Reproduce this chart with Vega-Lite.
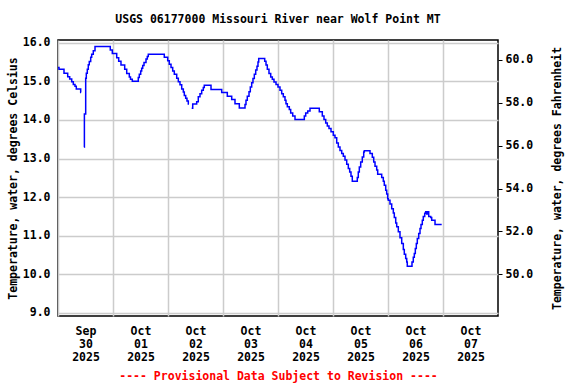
{
  "$schema": "https://vega.github.io/schema/vega-lite/v6.json",
  "width": 440,
  "height": 276,
  "autosize": {"type": "none"},
  "padding": {"left": 58, "top": 40, "right": 78, "bottom": 68},
  "background": "#ffffff",
  "config": {
    "font": "DejaVu Sans Mono",
    "view": {"stroke": "#000000", "strokeWidth": 1.5},
    "axis": {
      "labelFont": "DejaVu Sans Mono",
      "labelFontSize": 11.5,
      "labelFontWeight": "bold",
      "labelColor": "#000000",
      "titleFont": "DejaVu Sans Mono",
      "titleFontSize": 11.5,
      "titleFontWeight": "bold",
      "titleColor": "#000000",
      "domain": false,
      "gridColor": "#cccccc",
      "gridWidth": 1.5,
      "gridOpacity": 1
    }
  },
  "title": {
    "text": "USGS 06177000 Missouri River near Wolf Point MT",
    "font": "DejaVu Sans Mono",
    "fontSize": 11.5,
    "fontWeight": "bold",
    "color": "#000000",
    "anchor": "middle",
    "offset": 11
  },
  "data": {
    "values": [
      {"t": "2025-09-30T00:00", "c": 15.36},
      {"t": "2025-09-30T00:26", "c": 15.31},
      {"t": "2025-09-30T02:37", "c": 15.21},
      {"t": "2025-09-30T04:14", "c": 15.12},
      {"t": "2025-09-30T05:06", "c": 15.06},
      {"t": "2025-09-30T05:59", "c": 14.99},
      {"t": "2025-09-30T06:41", "c": 14.92},
      {"t": "2025-09-30T07:25", "c": 14.87},
      {"t": "2025-09-30T07:59", "c": 14.80},
      {"t": "2025-09-30T09:54", "c": 14.71},
      {"t": "2025-09-30T10:02", "c": 14.71},
      {"t": "2025-09-30T10:30", "c": null},
      {"t": "2025-09-30T11:29", "c": 13.29},
      {"t": "2025-09-30T11:31", "c": 14.15},
      {"t": "2025-09-30T12:05", "c": 15.08},
      {"t": "2025-09-30T12:21", "c": 15.21},
      {"t": "2025-09-30T12:47", "c": 15.31},
      {"t": "2025-09-30T13:13", "c": 15.43},
      {"t": "2025-09-30T13:39", "c": 15.51},
      {"t": "2025-09-30T14:16", "c": 15.62},
      {"t": "2025-09-30T14:42", "c": 15.70},
      {"t": "2025-09-30T15:24", "c": 15.79},
      {"t": "2025-09-30T16:09", "c": 15.90},
      {"t": "2025-09-30T22:49", "c": 15.81},
      {"t": "2025-09-30T23:42", "c": 15.72},
      {"t": "2025-10-01T01:37", "c": 15.61},
      {"t": "2025-10-01T02:29", "c": 15.52},
      {"t": "2025-10-01T03:29", "c": 15.42},
      {"t": "2025-10-01T05:06", "c": 15.31},
      {"t": "2025-10-01T05:59", "c": 15.20},
      {"t": "2025-10-01T07:07", "c": 15.11},
      {"t": "2025-10-01T07:38", "c": 15.05},
      {"t": "2025-10-01T08:25", "c": 15.00},
      {"t": "2025-10-01T11:02", "c": 15.10},
      {"t": "2025-10-01T11:29", "c": 15.18},
      {"t": "2025-10-01T12:05", "c": 15.27},
      {"t": "2025-10-01T12:31", "c": 15.34},
      {"t": "2025-10-01T12:58", "c": 15.41},
      {"t": "2025-10-01T13:32", "c": 15.49},
      {"t": "2025-10-01T14:24", "c": 15.58},
      {"t": "2025-10-01T14:58", "c": 15.64},
      {"t": "2025-10-01T15:24", "c": 15.70},
      {"t": "2025-10-01T22:23", "c": 15.62},
      {"t": "2025-10-01T23:52", "c": 15.53},
      {"t": "2025-10-02T00:34", "c": 15.44},
      {"t": "2025-10-02T01:19", "c": 15.36},
      {"t": "2025-10-02T02:03", "c": 15.27},
      {"t": "2025-10-02T02:45", "c": 15.18},
      {"t": "2025-10-02T03:48", "c": 15.08},
      {"t": "2025-10-02T04:30", "c": 14.99},
      {"t": "2025-10-02T05:14", "c": 14.91},
      {"t": "2025-10-02T05:59", "c": 14.80},
      {"t": "2025-10-02T06:41", "c": 14.72},
      {"t": "2025-10-02T07:07", "c": 14.63},
      {"t": "2025-10-02T07:43", "c": 14.56},
      {"t": "2025-10-02T08:17", "c": 14.49},
      {"t": "2025-10-02T08:52", "c": 14.41},
      {"t": "2025-10-02T09:10", "c": 14.41},
      {"t": "2025-10-02T09:40", "c": null},
      {"t": "2025-10-02T10:20", "c": 14.30},
      {"t": "2025-10-02T10:47", "c": 14.41},
      {"t": "2025-10-02T12:31", "c": 14.47},
      {"t": "2025-10-02T13:13", "c": 14.60},
      {"t": "2025-10-02T13:58", "c": 14.68},
      {"t": "2025-10-02T14:42", "c": 14.77},
      {"t": "2025-10-02T15:24", "c": 14.84},
      {"t": "2025-10-02T15:50", "c": 14.90},
      {"t": "2025-10-02T18:46", "c": 14.79},
      {"t": "2025-10-02T23:26", "c": 14.71},
      {"t": "2025-10-03T01:53", "c": 14.61},
      {"t": "2025-10-03T03:48", "c": 14.53},
      {"t": "2025-10-03T05:14", "c": 14.42},
      {"t": "2025-10-03T07:07", "c": 14.31},
      {"t": "2025-10-03T09:36", "c": 14.40},
      {"t": "2025-10-03T10:02", "c": 14.51},
      {"t": "2025-10-03T10:36", "c": 14.61},
      {"t": "2025-10-03T11:21", "c": 14.73},
      {"t": "2025-10-03T11:55", "c": 14.85},
      {"t": "2025-10-03T12:31", "c": 14.96},
      {"t": "2025-10-03T13:05", "c": 15.07},
      {"t": "2025-10-03T13:40", "c": 15.18},
      {"t": "2025-10-03T14:16", "c": 15.29},
      {"t": "2025-10-03T14:50", "c": 15.39},
      {"t": "2025-10-03T15:16", "c": 15.50},
      {"t": "2025-10-03T15:35", "c": 15.59},
      {"t": "2025-10-03T18:12", "c": 15.52},
      {"t": "2025-10-03T18:46", "c": 15.42},
      {"t": "2025-10-03T19:20", "c": 15.31},
      {"t": "2025-10-03T20:04", "c": 15.20},
      {"t": "2025-10-03T20:49", "c": 15.11},
      {"t": "2025-10-03T21:31", "c": 15.05},
      {"t": "2025-10-03T22:15", "c": 14.98},
      {"t": "2025-10-03T23:08", "c": 14.92},
      {"t": "2025-10-04T00:00", "c": 14.85},
      {"t": "2025-10-04T00:52", "c": 14.77},
      {"t": "2025-10-04T01:37", "c": 14.68},
      {"t": "2025-10-04T02:19", "c": 14.60},
      {"t": "2025-10-04T03:03", "c": 14.51},
      {"t": "2025-10-04T03:29", "c": 14.42},
      {"t": "2025-10-04T04:04", "c": 14.34},
      {"t": "2025-10-04T04:56", "c": 14.27},
      {"t": "2025-10-04T05:32", "c": 14.18},
      {"t": "2025-10-04T06:25", "c": 14.10},
      {"t": "2025-10-04T07:25", "c": 14.01},
      {"t": "2025-10-04T11:29", "c": 14.10},
      {"t": "2025-10-04T12:05", "c": 14.18},
      {"t": "2025-10-04T12:58", "c": 14.23},
      {"t": "2025-10-04T13:58", "c": 14.30},
      {"t": "2025-10-04T18:01", "c": 14.21},
      {"t": "2025-10-04T19:20", "c": 14.10},
      {"t": "2025-10-04T20:04", "c": 14.01},
      {"t": "2025-10-04T20:49", "c": 13.92},
      {"t": "2025-10-04T21:31", "c": 13.84},
      {"t": "2025-10-04T22:15", "c": 13.78},
      {"t": "2025-10-04T23:08", "c": 13.69},
      {"t": "2025-10-05T00:08", "c": 13.60},
      {"t": "2025-10-05T00:52", "c": 13.54},
      {"t": "2025-10-05T01:37", "c": 13.40},
      {"t": "2025-10-05T02:19", "c": 13.30},
      {"t": "2025-10-05T03:03", "c": 13.21},
      {"t": "2025-10-05T03:48", "c": 13.13},
      {"t": "2025-10-05T04:30", "c": 13.06},
      {"t": "2025-10-05T05:14", "c": 12.96},
      {"t": "2025-10-05T05:59", "c": 12.85},
      {"t": "2025-10-05T06:41", "c": 12.74},
      {"t": "2025-10-05T07:17", "c": 12.65},
      {"t": "2025-10-05T07:51", "c": 12.54},
      {"t": "2025-10-05T08:25", "c": 12.41},
      {"t": "2025-10-05T10:36", "c": 12.51},
      {"t": "2025-10-05T11:02", "c": 12.65},
      {"t": "2025-10-05T11:29", "c": 12.78},
      {"t": "2025-10-05T12:05", "c": 12.91},
      {"t": "2025-10-05T12:47", "c": 13.04},
      {"t": "2025-10-05T13:24", "c": 13.17},
      {"t": "2025-10-05T13:40", "c": 13.20},
      {"t": "2025-10-05T16:09", "c": 13.13},
      {"t": "2025-10-05T17:09", "c": 13.03},
      {"t": "2025-10-05T17:46", "c": 12.91},
      {"t": "2025-10-05T18:20", "c": 12.80},
      {"t": "2025-10-05T19:04", "c": 12.70},
      {"t": "2025-10-05T19:30", "c": 12.59},
      {"t": "2025-10-05T21:15", "c": 12.51},
      {"t": "2025-10-05T21:57", "c": 12.41},
      {"t": "2025-10-05T22:23", "c": 12.31},
      {"t": "2025-10-05T23:00", "c": 12.18},
      {"t": "2025-10-05T23:26", "c": 12.08},
      {"t": "2025-10-05T23:52", "c": 11.96},
      {"t": "2025-10-06T00:08", "c": 11.92},
      {"t": "2025-10-06T00:52", "c": 11.82},
      {"t": "2025-10-06T01:37", "c": 11.70},
      {"t": "2025-10-06T02:19", "c": 11.59},
      {"t": "2025-10-06T02:45", "c": 11.47},
      {"t": "2025-10-06T03:22", "c": 11.33},
      {"t": "2025-10-06T03:48", "c": 11.23},
      {"t": "2025-10-06T04:30", "c": 11.10},
      {"t": "2025-10-06T05:14", "c": 10.95},
      {"t": "2025-10-06T05:59", "c": 10.80},
      {"t": "2025-10-06T06:41", "c": 10.64},
      {"t": "2025-10-06T07:07", "c": 10.52},
      {"t": "2025-10-06T07:43", "c": 10.41},
      {"t": "2025-10-06T08:10", "c": 10.32},
      {"t": "2025-10-06T08:25", "c": 10.21},
      {"t": "2025-10-06T10:28", "c": 10.32},
      {"t": "2025-10-06T11:02", "c": 10.44},
      {"t": "2025-10-06T11:29", "c": 10.54},
      {"t": "2025-10-06T11:55", "c": 10.67},
      {"t": "2025-10-06T12:21", "c": 10.80},
      {"t": "2025-10-06T12:47", "c": 10.93},
      {"t": "2025-10-06T13:24", "c": 11.06},
      {"t": "2025-10-06T13:58", "c": 11.19},
      {"t": "2025-10-06T14:24", "c": 11.29},
      {"t": "2025-10-06T14:58", "c": 11.40},
      {"t": "2025-10-06T15:24", "c": 11.50},
      {"t": "2025-10-06T16:01", "c": 11.58},
      {"t": "2025-10-06T16:27", "c": 11.62},
      {"t": "2025-10-06T16:53", "c": 11.56},
      {"t": "2025-10-06T17:19", "c": 11.62},
      {"t": "2025-10-06T17:46", "c": 11.50},
      {"t": "2025-10-06T18:38", "c": 11.47},
      {"t": "2025-10-06T19:04", "c": 11.40},
      {"t": "2025-10-06T20:31", "c": 11.29},
      {"t": "2025-10-06T23:26", "c": 11.29}
    ]
  },
  "layer": [
    {
      "mark": {
        "type": "line",
        "interpolate": "step-after",
        "color": "#0000ff",
        "strokeWidth": 1.5,
        "invalid": "break-paths-filter-domains"
      },
      "encoding": {
        "x": {
          "field": "t",
          "type": "temporal",
          "scale": {
            "domain": [
              {"year": 2025, "month": 9, "date": 30, "hours": 0},
              {"year": 2025, "month": 10, "date": 8, "hours": 0}
            ]
          },
          "axis": {
            "values": [
              {"year": 2025, "month": 9, "date": 30},
              {"year": 2025, "month": 10, "date": 1},
              {"year": 2025, "month": 10, "date": 2},
              {"year": 2025, "month": 10, "date": 3},
              {"year": 2025, "month": 10, "date": 4},
              {"year": 2025, "month": 10, "date": 5},
              {"year": 2025, "month": 10, "date": 6},
              {"year": 2025, "month": 10, "date": 7}
            ],
            "labelExpr": "[timeFormat(datum.value, '%b'), timeFormat(datum.value, '%d'), timeFormat(datum.value, '%Y')]",
            "labelOffset": 27.5,
            "labelAlign": "center",
            "labelBaseline": "top",
            "labelLineHeight": 13,
            "labelPadding": 9,
            "labelOverlap": false,
            "labelFlush": false,
            "labelBound": false,
            "ticks": false,
            "grid": true,
            "title": "---- Provisional Data Subject to Revision ----",
            "titleColor": "#ff0000",
            "titlePadding": 8
          }
        },
        "y": {
          "field": "c",
          "type": "quantitative",
          "scale": {"domain": [8.92, 16.07], "nice": false, "zero": false},
          "axis": {
            "orient": "left",
            "values": [9, 10, 11, 12, 13, 14, 15, 16],
            "format": ".1f",
            "ticks": false,
            "grid": true,
            "labelPadding": 8,
            "title": "Temperature, water, degrees Celsius",
            "titlePadding": 4
          }
        }
      }
    },
    {
      "mark": {"type": "rule", "opacity": 0},
      "encoding": {
        "y": {
          "field": "c",
          "type": "quantitative",
          "scale": {"domain": [8.92, 16.07], "nice": false, "zero": false},
          "axis": {
            "orient": "right",
            "values": [10, 11.1111, 12.2222, 13.3333, 14.4444, 15.5556],
            "labelExpr": "format(datum.value * 1.8 + 32, '.1f')",
            "grid": false,
            "ticks": true,
            "tickSize": 4,
            "tickColor": "#000000",
            "labelPadding": 3,
            "title": "Temperature, water, degrees Fahrenheit",
            "titleAngle": 270,
            "titlePadding": 30
          }
        }
      }
    }
  ],
  "resolve": {"axis": {"y": "independent"}}
}
